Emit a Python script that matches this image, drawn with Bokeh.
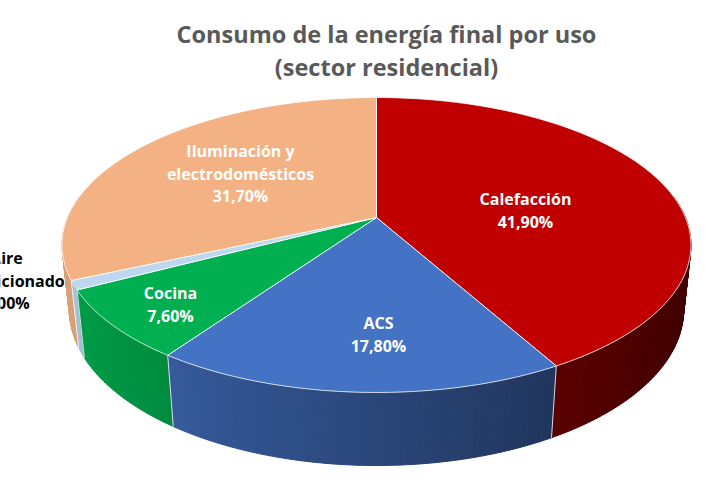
import numpy as np
from bokeh.plotting import figure
from bokeh.models import Range1d
from bokeh.embed import file_html
from bokeh.resources import INLINE
from bokeh.core.properties import value

# Data
categories = ["Calefacción", "ACS", "Cocina", "Aire\nacondicionado", "Iluminación y\nelectrodomésticos"]
shares = [41.9, 17.8, 7.6, 1.0, 31.7]
colors = ["#C00000", "#4472C4", "#00B050", "#BDD7EE", "#F4B183"]
title_lines = ["Consumo de la energía final por uso", "(sector residencial)"]

# label anchor (px) and text colour, per slice
label_pos = [(525, 210), (378, 334), (170, 304), (6, 280), (240, 173)]
label_col = ["white", "white", "white", "black", "white"]

# 3D perspective pie geometry
CX, CY = 376, 217
F, D = 1471.0, 4.761
SA = 0.4607
CA = np.sqrt(1 - SA ** 2)
DEPTH = 0.2375


def proj(X, Z, Y):
    yc = Y * CA + Z * SA
    zc = -Y * SA + Z * CA
    return CX + F * X / (D + zc), CY - F * yc / (D + zc)


def hex_rgb(h):
    h = h.lstrip("#")
    return tuple(int(h[i:i + 2], 16) for i in (0, 2, 4))


def shade(h, k):
    r, g, b = hex_rgb(h)
    k = max(0.0, min(1.0, k))
    return "#%02x%02x%02x" % (int(r * k), int(g * k), int(b * k))


p = figure(width=704, height=484, x_range=Range1d(0, 704), y_range=Range1d(484, 0),
           output_backend="svg", toolbar_location=None, min_border=0)
p.axis.visible = False
p.grid.visible = False
p.outline_line_color = None
p.background_fill_color = "white"

total = sum(shares)
bounds = np.concatenate([[0], np.cumsum(shares)]) / total * 2 * np.pi

# side walls (small quads, shaded from left to right)
wall_xs, wall_ys, wall_c, wall_z = [], [], [], []
for i, col in enumerate(colors):
    a0, a1 = bounds[i], bounds[i + 1]
    n = max(2, int((a1 - a0) / (2 * np.pi) * 360))
    t = np.linspace(a0, a1, n + 1)
    for j in range(n):
        ta, tb = t[j], t[j + 1]
        zm = np.cos((ta + tb) / 2)
        if zm > 0.15:
            continue
        xa, ya = proj(np.sin(ta), np.cos(ta), 0)
        xb, yb = proj(np.sin(tb), np.cos(tb), 0)
        xc, yc = proj(np.sin(tb), np.cos(tb), -DEPTH)
        xd, yd = proj(np.sin(ta), np.cos(ta), -DEPTH)
        wall_xs.append([xa, xb, xc, xd])
        wall_ys.append([ya, yb, yc, yd])
        wall_c.append(shade(col, 0.62 - 0.3 * np.sin((ta + tb) / 2)))
        wall_z.append(zm)
order = np.argsort(wall_z)[::-1]
p.patches([wall_xs[k] for k in order], [wall_ys[k] for k in order],
          fill_color=[wall_c[k] for k in order], line_color=[wall_c[k] for k in order],
          line_width=1)

# light edges between slices on the walls
for b in bounds[1:-1]:
    if np.cos(b) < -0.2:
        x0, y0 = proj(np.sin(b), np.cos(b), 0)
        x1, y1 = proj(np.sin(b), np.cos(b), -DEPTH)
        p.line([x0, x1], [y0, y1], line_color="white", line_alpha=0.8, line_width=1)

# top faces
top_xs, top_ys = [], []
for i in range(len(shares)):
    t = np.linspace(bounds[i], bounds[i + 1], 120)
    px, py = proj(np.sin(t), np.cos(t), 0)
    cx, cy = proj(0, 0, 0)
    top_xs.append(np.concatenate([[cx], px]))
    top_ys.append(np.concatenate([[cy], py]))
p.patches(top_xs, top_ys, fill_color=colors, line_color="white", line_alpha=0.8, line_width=1)

# slice labels
lx, ly, lt, lc = [], [], [], []
for i, name in enumerate(categories):
    lines = name.split("\n") + [("%.2f%%" % shares[i]).replace(".", ",")]
    x0, y0 = label_pos[i]
    for k, s in enumerate(lines):
        lx.append(x0)
        ly.append(y0 + (k - (len(lines) - 1) / 2) * 22.5)
        lt.append(s)
        lc.append(label_col[i])
p.text(lx, ly, text=lt, text_color=lc, text_font=value("Open Sans"), text_font_style="bold",
       text_font_size="16px", text_align="center", text_baseline="middle")

# title
p.text([386, 386], [33, 66], text=title_lines, text_color="#595959", text_font=value("Open Sans"),
       text_font_style="bold", text_font_size="23.5px", text_align="center", text_baseline="middle")

open("out.html", "w").write(file_html(p, INLINE))
